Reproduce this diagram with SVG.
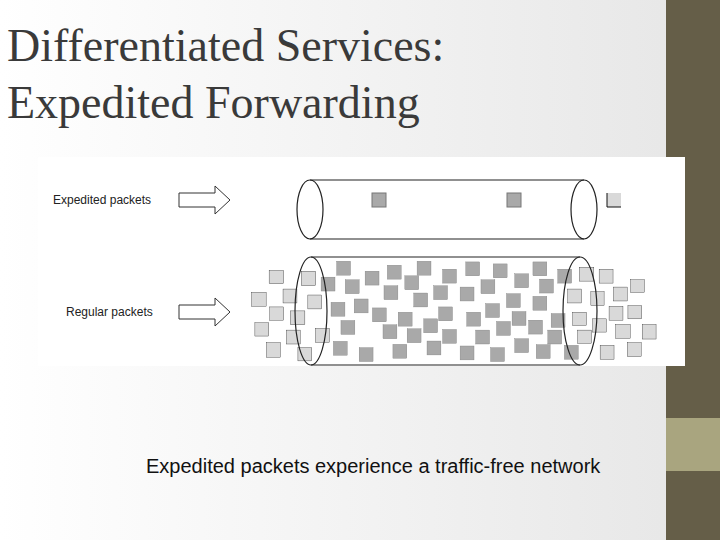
<svg xmlns="http://www.w3.org/2000/svg" width="720" height="540" viewBox="0 0 720 540">
<defs>
<linearGradient id="bg" x1="0" y1="0" x2="1" y2="0"><stop offset="0" stop-color="#ffffff"/><stop offset="1" stop-color="#e6e6e6"/></linearGradient>
<style>
.d{fill:#a9a9a9;stroke:#777;stroke-width:1}
.l{fill:#d9d9d9;stroke:#111;stroke-width:1}
.o{fill:none;stroke:#222;stroke-width:1.2}
.lab{font-family:"Liberation Sans",Arial,sans-serif;font-size:12px;fill:#222}
</style>
</defs>
<rect width="720" height="540" fill="url(#bg)"/>
<rect x="666" y="0" width="54" height="540" fill="#655e48"/>
<rect x="666" y="418" width="54" height="53" fill="#a9a57f"/>
<rect x="38" y="157" width="647" height="209" fill="#ffffff"/>
<g id="title" font-family="Liberation Serif,serif" font-size="46" fill="#3a3a3a">
<text x="7" y="61">Differentiated Services:</text>
<text x="7" y="118">Expedited Forwarding</text>
</g>
<g id="labels">
<text class="lab" x="53" y="204">Expedited packets</text>
<text class="lab" x="66" y="316">Regular packets</text>
</g>
<g id="connectors" fill="#fff" stroke="#333" stroke-width="1">
<path d="M179,193 H215 V186 L230,200 L215,214 V207 H179 Z"/>
<path d="M179,305 H215 V298 L230,312 L215,326 V319 H179 Z"/>
</g>
<g id="pipe-expedited">
<path class="o" d="M310,180 H584 M310,239 H584"/>
<ellipse class="o" cx="310" cy="209.5" rx="13" ry="29.5" fill="#fff"/>
<ellipse class="o" cx="584" cy="209.5" rx="13" ry="29.5"/>
<rect class="d" x="372" y="193" width="14" height="14"/>
<rect class="d" x="507" y="193" width="14" height="14"/>
<rect x="607" y="193" width="14" height="14" fill="#d9d9d9"/>
<path d="M607,193 V207 H621" fill="none" stroke="#111"/>
</g>
<g id="pipe-regular">
<path class="o" d="M311,257 H580 M311,365 H580"/>
<g transform="translate(240,250) scale(0.331)">
<g class="l" stroke-width="4.5">
<rect x="88" y="62" width="44" height="40"/><rect x="35" y="128" width="44" height="42"/><rect x="130" y="118" width="42" height="42"/><rect x="90" y="172" width="42" height="40"/><rect x="45" y="220" width="42" height="40"/><rect x="152" y="184" width="44" height="42"/><rect x="205" y="136" width="42" height="42"/><rect x="185" y="64" width="44" height="44"/><rect x="140" y="242" width="42" height="42"/><rect x="80" y="280" width="42" height="44"/><rect x="175" y="295" width="42" height="40"/><rect x="228" y="237" width="42" height="42"/>
<rect x="1025" y="52" width="44" height="42"/><rect x="1085" y="58" width="42" height="42"/><rect x="1180" y="90" width="42" height="38"/><rect x="1128" y="112" width="42" height="42"/><rect x="990" y="118" width="42" height="42"/><rect x="1060" y="126" width="40" height="42"/><rect x="1115" y="170" width="42" height="42"/><rect x="1172" y="168" width="42" height="40"/><rect x="1005" y="188" width="42" height="40"/><rect x="1065" y="208" width="42" height="40"/><rect x="1135" y="225" width="44" height="42"/><rect x="1215" y="225" width="42" height="44"/><rect x="1020" y="242" width="42" height="40"/><rect x="1088" y="288" width="42" height="42"/><rect x="1170" y="280" width="42" height="42"/>
</g>
<g class="d" stroke-width="3">
<rect x="245" y="82" width="42" height="42"/><rect x="292" y="34" width="42" height="42"/><rect x="318" y="90" width="42" height="42"/><rect x="378" y="64" width="42" height="42"/><rect x="445" y="46" width="42" height="42"/><rect x="535" y="34" width="42" height="42"/><rect x="498" y="78" width="42" height="42"/><rect x="435" y="108" width="42" height="42"/><rect x="345" y="148" width="42" height="42"/><rect x="275" y="158" width="42" height="42"/><rect x="400" y="175" width="42" height="42"/><rect x="305" y="213" width="42" height="42"/><rect x="282" y="276" width="42" height="42"/><rect x="360" y="295" width="42" height="42"/><rect x="462" y="285" width="42" height="42"/><rect x="432" y="226" width="42" height="42"/><rect x="478" y="188" width="42" height="42"/><rect x="505" y="238" width="42" height="42"/><rect x="525" y="130" width="42" height="42"/><rect x="555" y="208" width="42" height="42"/><rect x="585" y="108" width="42" height="42"/><rect x="612" y="58" width="42" height="42"/><rect x="682" y="36" width="42" height="42"/><rect x="765" y="42" width="42" height="42"/><rect x="728" y="90" width="42" height="42"/><rect x="830" y="72" width="42" height="42"/><rect x="885" y="36" width="42" height="42"/><rect x="905" y="88" width="42" height="42"/><rect x="665" y="112" width="42" height="42"/><rect x="600" y="172" width="42" height="42"/><rect x="565" y="275" width="42" height="42"/><rect x="612" y="240" width="42" height="42"/><rect x="665" y="290" width="42" height="42"/><rect x="685" y="188" width="42" height="42"/><rect x="712" y="242" width="42" height="42"/><rect x="742" y="162" width="42" height="42"/><rect x="805" y="132" width="42" height="42"/><rect x="822" y="186" width="42" height="42"/><rect x="775" y="216" width="42" height="42"/><rect x="872" y="212" width="42" height="42"/><rect x="885" y="140" width="42" height="42"/><rect x="830" y="268" width="42" height="42"/><rect x="895" y="286" width="42" height="42"/><rect x="757" y="295" width="42" height="42"/><rect x="940" y="192" width="42" height="42"/><rect x="930" y="242" width="42" height="42"/><rect x="960" y="58" width="42" height="42"/><rect x="980" y="288" width="42" height="42"/>
</g>
</g>
<ellipse class="o" cx="311" cy="311" rx="16" ry="54"/>
<ellipse class="o" cx="580" cy="311" rx="17" ry="54"/>
</g>
<text id="caption" x="146" y="473" font-family="Liberation Sans,Arial,sans-serif" font-size="20" fill="#111">Expedited packets experience a traffic-free network</text>
</svg>
